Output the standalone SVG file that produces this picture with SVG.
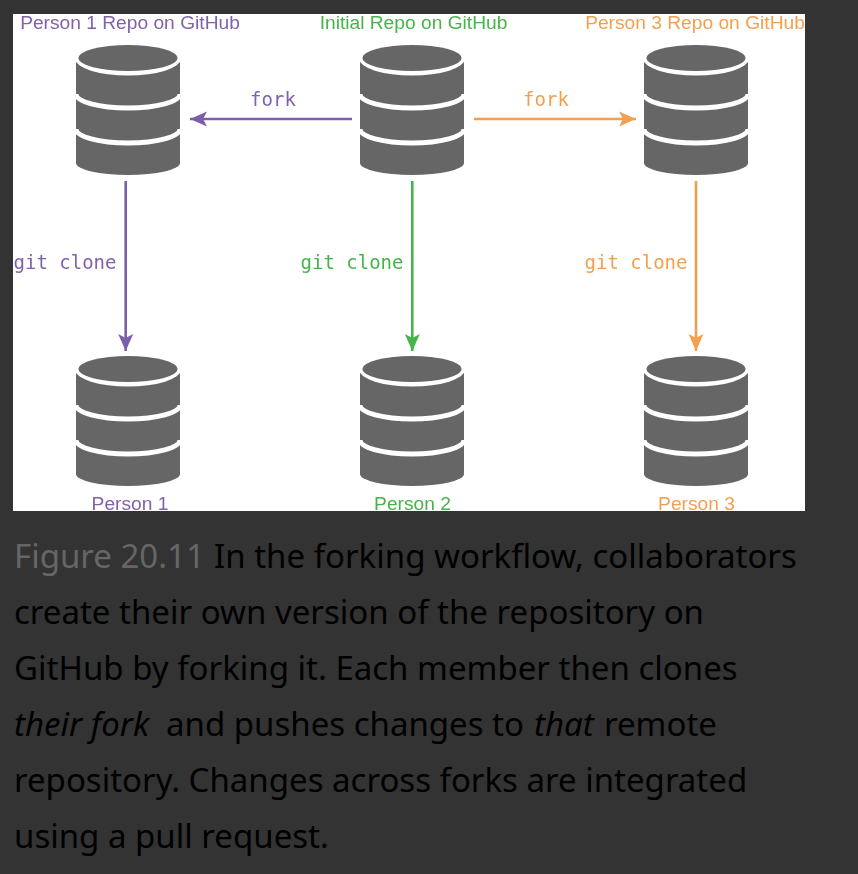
<svg xmlns="http://www.w3.org/2000/svg" xmlns:xlink="http://www.w3.org/1999/xlink" width="858" height="874" viewBox="0 0 858 874">
<style>
.l{font-family:"Liberation Sans",Arial,sans-serif;font-size:19.200px;text-anchor:middle}
.m{font-family:"DejaVu Sans Mono","Liberation Mono",monospace;font-size:19px;text-anchor:middle}
.c{font-family:"Noto Sans","Open Sans",sans-serif;font-size:33px;fill:#000}
.fg{fill:#666}
.p{fill:#8062ac}.g{fill:#44b549}.o{fill:#f2a04f}
.lp{stroke:#7c5eaa}.lg{stroke:#44b549}.lo{stroke:#f2a04f}
.ln{fill:none;stroke-width:2.600}
.band{fill:none;stroke:#fff;stroke-width:4.800}
.soft{filter:url(#soft)}
</style>
<defs>
<filter id="soft" x="-5%" y="-5%" width="110%" height="110%"><feGaussianBlur stdDeviation="0.4"/></filter>
<marker id="ap" markerUnits="userSpaceOnUse" markerWidth="18" markerHeight="17" refX="17" refY="8" orient="auto"><path d="M0,0.500 L17,8 L0,15.500 L4,8Z" fill="#7c5eaa"/></marker>
<marker id="ag" markerUnits="userSpaceOnUse" markerWidth="18" markerHeight="17" refX="17" refY="8" orient="auto"><path d="M0,0.500 L17,8 L0,15.500 L4,8Z" fill="#44b549"/></marker>
<marker id="ao" markerUnits="userSpaceOnUse" markerWidth="18" markerHeight="17" refX="17" refY="8" orient="auto"><path d="M0,0.500 L17,8 L0,15.500 L4,8Z" fill="#f2a04f"/></marker>
<g id="db">
<path d="M-52,62 H52 V163 A52,12 0 0 1 -52,163Z" fill="#666"/>
<ellipse cx="0" cy="59" rx="52.500" ry="16.500" fill="#fff"/>
<ellipse cx="0" cy="58" rx="49.500" ry="13" fill="#666"/>
<path class="band" d="M-52,94 A52,14 0 0 0 52,94"/>
<path class="band" d="M-52,129 A52,14 0 0 0 52,129"/>
</g>
</defs>
<rect width="858" height="874" fill="#333"/>
<rect x="13" y="14" width="792" height="497" fill="#fff"/>
<g id="connectors" class="soft">
<path class="ln lp" d="M352,119 H190" marker-end="url(#ap)"/>
<path class="ln lo" d="M474,119 H636" marker-end="url(#ao)"/>
<path class="ln lp" d="M125.700,181 V351" marker-end="url(#ap)"/>
<path class="ln lg" d="M412.300,181 V351" marker-end="url(#ag)"/>
<path class="ln lo" d="M696,181 V351" marker-end="url(#ao)"/>
<text class="m p" x="273" y="106">fork</text>
<text class="m o" x="546" y="106">fork</text>
<text class="m p" x="65" y="269">git clone</text>
<text class="m g" x="352" y="269">git clone</text>
<text class="m o" x="636" y="269">git clone</text>
</g>
<g id="repo1" class="soft"><use xlink:href="#db" href="#db" x="128" y="0"/><text class="l p" x="130" y="29">Person 1 Repo on GitHub</text></g>
<g id="repo2" class="soft"><use xlink:href="#db" href="#db" x="412" y="0"/><text class="l g" x="413.500" y="29">Initial Repo on GitHub</text></g>
<g id="repo3" class="soft"><use xlink:href="#db" href="#db" x="696" y="0"/><text class="l o" x="695" y="29">Person 3 Repo on GitHub</text></g>
<g id="person1" class="soft"><use xlink:href="#db" href="#db" x="128" y="311"/><text class="l p" x="130" y="510">Person 1</text></g>
<g id="person2" class="soft"><use xlink:href="#db" href="#db" x="412" y="311"/><text class="l g" x="412.500" y="510">Person 2</text></g>
<g id="person3" class="soft"><use xlink:href="#db" href="#db" x="696" y="311"/><text class="l o" x="696.500" y="510">Person 3</text></g>
<g id="caption" class="c">
<text x="14" y="568"><tspan class="fg">Figure 20.11</tspan> <tspan x="214">In the forking workflow, collaborators</tspan></text>
<text x="14" y="624">create their own version of the repository on</text>
<text x="14" y="680">GitHub by forking it. Each member then clones</text>
<text x="14" y="736"><tspan font-style="italic">their fork</tspan> <tspan x="166">and pushes changes to</tspan> <tspan x="534" font-style="italic">that</tspan> <tspan x="604">remote</tspan></text>
<text x="14" y="792">repository. Changes across forks are integrated</text>
<text x="14" y="848">using a pull request.</text>
</g>
</svg>
